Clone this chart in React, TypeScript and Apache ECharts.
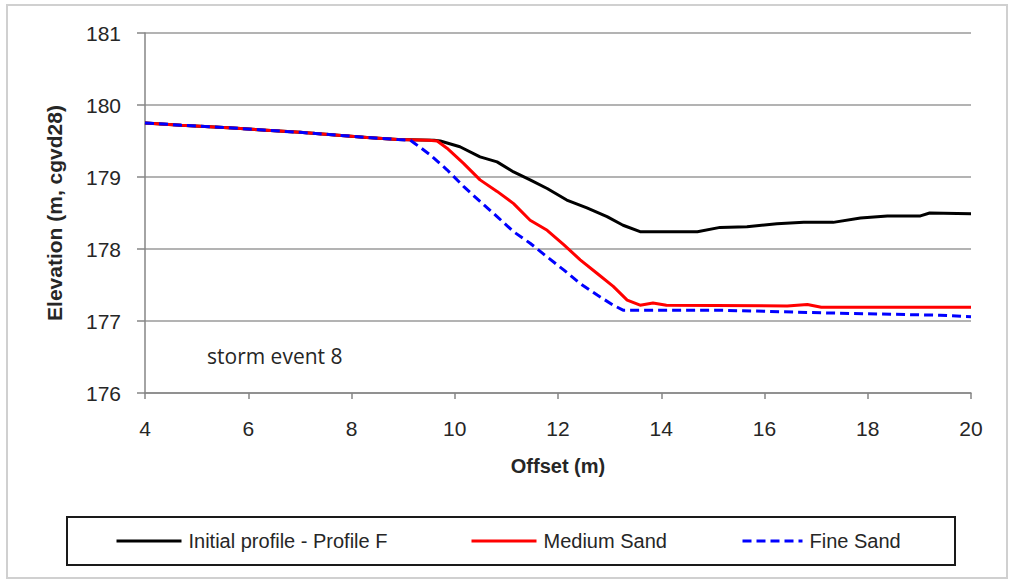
import React, { useEffect, useRef } from "react";
import * as echarts from "echarts";

const initialOffset = [4, 4.7, 5.7, 7, 8.3, 8.9, 9.6, 9.72, 10.1, 10.49, 10.82, 11.14, 11.46, 11.79, 12.17, 12.56, 12.95, 13.26, 13.59, 14.7, 15.14, 15.66, 16.24, 16.76, 17.33, 17.86, 18.38, 19.02, 19.2, 20];
const initialElev = [179.75, 179.72, 179.68, 179.62, 179.55, 179.52, 179.51, 179.5, 179.42, 179.28, 179.21, 179.07, 178.96, 178.84, 178.68, 178.57, 178.45, 178.33, 178.24, 178.24, 178.3, 178.31, 178.35, 178.37, 178.37, 178.43, 178.46, 178.46, 178.5, 178.49];

const mediumOffset = [4, 4.7, 5.7, 7, 8.3, 8.9, 9.5, 9.66, 9.85, 10.17, 10.49, 10.82, 11.14, 11.46, 11.79, 12.11, 12.43, 12.76, 13.07, 13.34, 13.59, 13.84, 14.1, 16.44, 16.83, 17.1, 20];
const mediumElev = [179.75, 179.72, 179.68, 179.62, 179.55, 179.52, 179.51, 179.5, 179.4, 179.19, 178.96, 178.8, 178.63, 178.4, 178.26, 178.06, 177.85, 177.66, 177.48, 177.29, 177.22, 177.25, 177.22, 177.21, 177.23, 177.19, 177.19];

const fineOffset = [4, 4.7, 5.7, 7, 8.3, 8.9, 9.14, 9.2, 9.52, 9.85, 10.17, 10.49, 10.82, 11.14, 11.46, 11.79, 12.11, 12.43, 12.76, 13.07, 13.26, 15.14, 17.33, 19.4, 20];
const fineElev = [179.75, 179.72, 179.68, 179.62, 179.55, 179.52, 179.51, 179.48, 179.31, 179.1, 178.87, 178.66, 178.45, 178.24, 178.08, 177.89, 177.71, 177.52, 177.36, 177.22, 177.15, 177.15, 177.11, 177.08, 177.06];

const seriesNames = ["Initial profile - Profile F", "Medium Sand", "Fine Sand"];
const annotation = "storm event 8";
const xTitle = "Offset (m)";
const yTitle = "Elevation (m, cgvd28)";

const zip = (a: number[], b: number[]) => a.map((v, i) => [v, b[i]]);

export default function App() {
  const ref = useRef<HTMLDivElement>(null);
  useEffect(() => {
    if (!ref.current) return;
    const chart = echarts.init(ref.current, undefined, { renderer: "svg" });
    const labelColor = "#262626";
    const legendBase = {
      top: 531,
      padding: 0,
      itemWidth: 65,
      itemHeight: 14,
      itemStyle: { opacity: 0 },
      lineStyle: { width: 3 },
      textStyle: { fontFamily: "'Liberation Sans Narrow', 'Liberation Sans', sans-serif", fontSize: 20, color: labelColor, padding: [0, 0, 0, 2] },
    };
    chart.setOption({
      animation: false,
      backgroundColor: "#ffffff",
      grid: { left: 145, right: 42, top: 33, bottom: 187, containLabel: false },
      xAxis: {
        type: "value",
        min: 4,
        max: 20,
        interval: 2,
        name: xTitle,
        nameLocation: "middle",
        nameGap: 63,
        nameTextStyle: { fontFamily: "Liberation Sans, Arial", fontWeight: "bold", fontSize: 20, color: labelColor },
        axisLine: { show: true, onZero: false, lineStyle: { color: "#868686", width: 1.5 } },
        axisTick: { show: true, inside: false, length: 6, lineStyle: { color: "#868686", width: 1.5 } },
        axisLabel: { margin: 25, fontFamily: "Liberation Sans, Arial", fontSize: 21, color: labelColor },
        splitLine: { show: false },
      },
      yAxis: {
        type: "value",
        min: 176,
        max: 181,
        interval: 1,
        name: yTitle,
        nameLocation: "middle",
        nameGap: 80,
        nameTextStyle: { fontFamily: "Liberation Sans, Arial", fontWeight: "bold", fontSize: 21, color: labelColor },
        axisLine: { show: true, lineStyle: { color: "#868686", width: 1.5 } },
        axisTick: { show: true, inside: false, length: 8, lineStyle: { color: "#868686", width: 1.5 } },
        axisLabel: { margin: 24, fontFamily: "Liberation Sans, Arial", fontSize: 21, color: labelColor },
        splitLine: { show: true, lineStyle: { color: "#9a9a9a", width: 1.5 } },
      },
      legend: [
        { ...legendBase, left: 115, data: [seriesNames[0]] },
        { ...legendBase, left: 470, data: [seriesNames[1]] },
        { ...legendBase, left: 741, itemWidth: 60, data: [seriesNames[2]] },
      ],
      graphic: [
        {
          type: "rect",
          silent: true,
          shape: { x: 7, y: 5, width: 1000, height: 573 },
          style: { fill: "none", stroke: "#d0d0d0", lineWidth: 2 },
          z: -10,
        },
        {
          type: "rect",
          silent: true,
          shape: { x: 67, y: 517, width: 888, height: 48 },
          style: { fill: "none", stroke: "#1a1a1a", lineWidth: 2 },
        },
        {
          type: "text",
          left: 207,
          top: 345,
          style: { text: annotation, fontFamily: "'Open Sans', sans-serif", fontSize: 21, fill: labelColor },
        },
      ],
      series: [
        {
          name: seriesNames[0],
          type: "line",
          data: zip(initialOffset, initialElev),
          showSymbol: false,
          symbol: "none",
          lineStyle: { color: "#000000", width: 3 },
          itemStyle: { color: "#000000" },
          z: 1,
        },
        {
          name: seriesNames[1],
          type: "line",
          data: zip(mediumOffset, mediumElev),
          showSymbol: false,
          symbol: "none",
          lineStyle: { color: "#ff0000", width: 3 },
          itemStyle: { color: "#ff0000" },
          z: 2,
        },
        {
          name: seriesNames[2],
          type: "line",
          data: zip(fineOffset, fineElev),
          showSymbol: false,
          symbol: "none",
          lineStyle: { color: "#0000ff", width: 3, type: [9, 5] },
          itemStyle: { color: "#0000ff" },
          z: 3,
        },
      ],
    });
    return () => chart.dispose();
  }, []);
  return <div ref={ref} style={{ position: "absolute", left: 0, top: 0, width: 1013, height: 580 }} />;
}
